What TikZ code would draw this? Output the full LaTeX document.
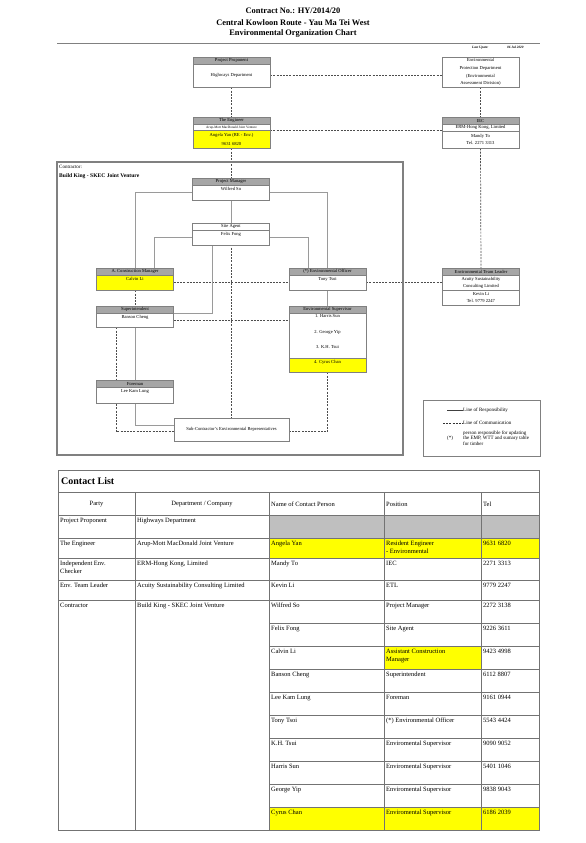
\documentclass[tikz,border=0pt]{standalone}
\usepackage{fontspec}
\setmainfont{Liberation Serif}
\usetikzlibrary{positioning,backgrounds}

\definecolor{hdrgray}{HTML}{A6A6A6}
\definecolor{boxline}{HTML}{808080}
\definecolor{hiyellow}{HTML}{FFFF00}
\definecolor{linegray}{HTML}{9A9A9A}
\definecolor{dashgray}{HTML}{4D4D4D}
\definecolor{cellgray}{HTML}{BFBFBF}

\newcommand{\boxfont}{\fontsize{4.6}{6.5}\selectfont}
\newcommand{\tinyfont}{\fontsize{3.4}{4}\selectfont}
\newcommand{\tabfont}{\fontsize{6.5}{7.6}\selectfont}

\tikzset{
  cell/.style={draw=boxline, fill=white, inner sep=0pt, minimum width=77pt,
    anchor=north, font=\boxfont},
  hdr/.style={cell, fill=hdrgray, minimum height=7pt},
  nameline/.style={text height=3.3pt, text depth=#1},
  resp/.style={draw=linegray, line width=0.8pt},
  comm/.style={draw=dashgray, line width=0.7pt, dash pattern=on 2pt off 1.2pt},
  frame/.style={draw=gray, line width=1.1pt},
  tline/.style={draw=black!55, line width=0.5pt},
  tcell/.style={anchor=north west, inner sep=0pt, align=left, font=\tabfont},
  ttl/.style={font=\bfseries\fontsize{8.4}{9}\selectfont},
}

\begin{document}
\begin{tikzpicture}[x=1pt, y=-1pt]
    \useasboundingbox (0,0) rectangle (586,843);

    % title block
    \node[ttl] (ttl1) at (293,11) {Contract No.: HY/2014/20};
    \node[ttl] (ttl2) at (293,23) {Central Kowloon Route - Yau Ma Tei West};
    \node[ttl] (ttl3) at (293,34) {Environmental Organization Chart};
    \draw[draw=gray, line width=0.8pt] (57,43) -- (540,43);
    \node[anchor=west, inner sep=0pt, font=\bfseries\itshape\tinyfont] (upd) at (472,47.5) {Last Upate:};
    \node[anchor=west, inner sep=0pt, font=\bfseries\itshape\tinyfont] (upddate) at (507,47.5) {06 Jul 2020};

    % outside parties
    \node[hdr] (pph) at (231.5,57) {Project Proponent};
    \node[cell, minimum height=23pt] (ppb) at (231.5,64) {Highways Department};
    \node[cell, minimum height=30pt, align=center, font=\fontsize{4.6}{7.6}\selectfont] (epd) at (480.5,57)
      {Environmental\\Protection Department\\(Environmental\\Assessment Division)};
    \node[hdr] (engh) at (231.5,117) {The Engineer};
    \node[cell, minimum height=6pt, font=\tinyfont] (engc) at (231.5,124) {Arup-Mott MacDonald Joint Venture};
    \node[cell, fill=hiyellow, minimum height=18pt, align=center, font=\fontsize{4.6}{9}\selectfont] (engy) at (231.5,130)
      {Angela Yan (RE - Env.)\\9631 6820};
    \node[hdr] (iech) at (480.5,117) {IEC};
    \node[cell, minimum height=7pt] (iecc) at (480.5,124) {ERM-Hong Kong, Limited};
    \node[cell, minimum height=17pt, align=center, font=\fontsize{4.6}{7}\selectfont] (iecb) at (480.5,131)
      {Mandy To\\Tel. 2271 3313};

    % contractor
    \draw[frame] (57,162) rectangle (403,455);
    \node[anchor=north west, inner sep=0pt, font=\fontsize{5}{6}\selectfont] (contr) at (59,165) {Contractor:};
    \node[anchor=north west, inner sep=0pt, font=\bfseries\fontsize{5.6}{6}\selectfont] (bkjv) at (59,173)
      {Build King - SKEC Joint Venture};

    \node[hdr] (pmh) at (231,178) {Project Manager};
    \node[cell, minimum height=15pt, nameline=8.3pt] (pmb) at (231,185) {Wilfred So};
    \node[cell, minimum height=7pt] (sah) at (231,223) {Site Agent};
    \node[cell, minimum height=15pt, nameline=8.3pt] (sab) at (231,230) {Felix Fong};

    \node[hdr] (acmh) at (135,268) {A. Construction Manager};
    \node[cell, fill=hiyellow, minimum height=15pt, nameline=8.3pt] (acmb) at (135,275) {Calvin Li};
    \node[hdr] (eoh) at (327.5,268) {(*) Environmental Officer};
    \node[cell, minimum height=15pt, nameline=8.3pt] (eob) at (327.5,275) {Tony Tsoi};

    \node[hdr] (suph) at (135,306) {Superintendent};
    \node[cell, minimum height=14pt, nameline=7.3pt] (supb) at (135,313) {Banson Cheng};
    \node[hdr] (esh) at (327.5,306) {Environmental Supervisor};
    \node[cell, minimum height=45pt] (esb) at (327.5,313) {};
    \node[font=\boxfont] (es1) at (327.5,316.5) {1. Harris Sun};
    \node[font=\boxfont] (es2) at (327.5,332) {2. George Yip};
    \node[font=\boxfont] (es3) at (327.5,347) {3. K.H. Tsui};
    \node[cell, fill=hiyellow, minimum height=14pt, nameline=7.3pt] (esy) at (327.5,358) {4. Cyrus Chan};

    \node[hdr] (fmh) at (135,380) {Foreman};
    \node[cell, minimum height=16pt, nameline=9.3pt] (fmb) at (135,387) {Lee Kam Lung};
    \node[cell, minimum width=115pt, minimum height=23pt] (sub) at (231.5,418)
      {Sub-Contractor's Environmental Representatives};

    % environmental team leader
    \node[hdr] (etlh) at (481,268) {Environmental Team Leader};
    \node[cell, minimum height=15pt, align=center, font=\fontsize{4.6}{7}\selectfont] (etlc) at (481,275)
      {Acuity Sustainability\\Consulting Limited};
    \node[cell, minimum height=15pt, align=center, font=\fontsize{4.6}{7}\selectfont] (etlb) at (481,290)
      {Kevin Li\\Tel. 9779 2247};

    \begin{scope}[on background layer]
      % line of communication
      \draw[comm] (ppb.east) -- (ppb.east -| epd.west);
      \draw[comm] (ppb.south) -- (engh.north);
      \draw[comm] (epd.south) -- (iech.north);
      \draw[comm] (engc.south east) -- (engc.south east -| iecb.west);
      \draw[comm] (engy.south) -- (sub.north);
      \draw[comm] (iecb.south) -- (etlh.north);
      \draw[comm] (acmb.east) -- (eob.west);
      \draw[comm] (eob.east) -- (etlc.west);
      \draw[comm] (acmb.south) -- (suph.north);
      \draw[comm] (supb.east) -- (supb.east -| esb.west);
      \draw[comm] ([xshift=-19pt]supb.south) |- ([yshift=-2pt]sub.west);
      \draw[comm] (esy.south) |- ([yshift=-2pt]sub.east);
      % line of responsibility
      \draw[resp] (pmb.south) -- (sah.north);
      \draw[resp] (pmb.west) -| (acmh.north);
      \draw[resp] (pmb.east) -| (eoh.north);
      \draw[resp] (sab.west) -| ([xshift=19pt]acmh.north);
      \draw[resp] (sab.east) -| ([xshift=-19pt]eoh.north);
      \draw[resp] ([xshift=-19pt]sab.south) |- (supb.north east);
      \draw[resp] (eob.south) -- (esh.north);
      \draw[resp] (supb.south) -- (fmh.north);
      \draw[resp] (fmb.south) |- ([yshift=4pt]sub.west);
    \end{scope}

    % legend
    \draw[draw=boxline, line width=0.6pt] (423,400) rectangle (540,456);
    \node[anchor=west, inner sep=0pt, font=\fontsize{5}{6}\selectfont] (lresp) at (463,410) {Line of Responsibility};
    \coordinate (lresp0) at (447,410);
    \draw[draw=black!75, line width=0.5pt] (lresp0) -- (lresp.west);
    \node[anchor=west, inner sep=0pt, font=\fontsize{5}{6}\selectfont] (lcomm) at (463,423) {Line of Communication};
    \coordinate (lcomm0) at (443,423);
    \draw[comm, draw=black!80] (lcomm0) -- (lcomm.west);
    \node[font=\fontsize{5}{6}\selectfont] (lstar) at (450,438) {(*)};
    \node[anchor=west, inner sep=0pt, align=left, font=\fontsize{5}{5.4}\selectfont] (lnote) at (463,438)
      {person responsible for updating\\the EMP, WTT and sumary table\\for timber};

    % contact list
    \fill[cellgray] (269,515) rectangle (539,538);
    \fill[hiyellow] (269,538) rectangle (539,558);
    \fill[hiyellow] (384,646) rectangle (481,669);
    \fill[hiyellow] (269,807) rectangle (539,830);
    \draw[tline] (58,470) rectangle (539,830);
    \foreach \y in {492,515,538,558,580,600}{
      \draw[tline] (58,\y) -- (539,\y);
    }
    \foreach \y in {623,646,...,807}{
      \draw[tline] (269,\y) -- (539,\y);
    }
    \foreach \x in {135,269,384,481}{
      \draw[tline] (\x,492) -- (\x,830);
    }
    \node[anchor=west, inner sep=0pt, font=\bfseries\fontsize{10}{12}\selectfont] (ctitle) at (61,481) {Contact List};
    \node[inner sep=0pt, font=\tabfont] (hparty) at (96.5,504) {Party};
    \node[inner sep=0pt, font=\tabfont] (hdept) at (202,504) {Department / Company};
    \node[anchor=west, inner sep=0pt, font=\tabfont] (hname) at (271,504) {Name of Contact Person};
    \node[anchor=west, inner sep=0pt, font=\tabfont] (hpos) at (386,504) {Position};
    \node[anchor=west, inner sep=0pt, font=\tabfont] (htel) at (483,504) {Tel};
    \foreach \y/\party/\dept [count=\i] in {
      515/Project Proponent/Highways Department,
      538/The Engineer/Arup-Mott MacDonald Joint Venture,
      558/{Independent Env.\\Checker}/{ERM-Hong Kong, Limited},
      580/Env. Team Leader/Acuity Sustainability Consulting Limited,
      600/Contractor/Build King - SKEC Joint Venture}{
      \node[tcell] (party\i) at (60,\y+3) {\party};
      \node[tcell] (dept\i) at (137,\y+3) {\dept};
    }
    \foreach \y/\nm/\pos/\tel [count=\i] in {
      538/Angela Yan/{Resident Engineer\\- Environmental}/9631 6820,
      558/Mandy To/IEC/2271 3313,
      580/Kevin Li/ETL/9779 2247,
      600/Wilfred So/Project Manager/2272 3138,
      623/Felix Fong/Site Agent/9226 3611,
      646/Calvin Li/{Assistant Construction\\Manager}/9423 4998,
      669/Banson Cheng/Superintendent/6112 8807,
      692/Lee Kam Lung/Foreman/9161 0944,
      715/Tony Tsoi/(*) Environmental Officer/5543 4424,
      738/K.H. Tsui/Enviromental Supervisor/9090 9052,
      761/Harris Sun/Enviromental Supervisor/5401 1046,
      784/George Yip/Enviromental Supervisor/9838 9043,
      807/Cyrus Chan/Enviromental Supervisor/6186 2039}{
      \node[tcell] (nm\i) at (271,\y+3) {\nm};
      \node[tcell] (pos\i) at (386,\y+3) {\pos};
      \node[tcell] (tel\i) at (483,\y+3) {\tel};
    }
\end{tikzpicture}
\end{document}
